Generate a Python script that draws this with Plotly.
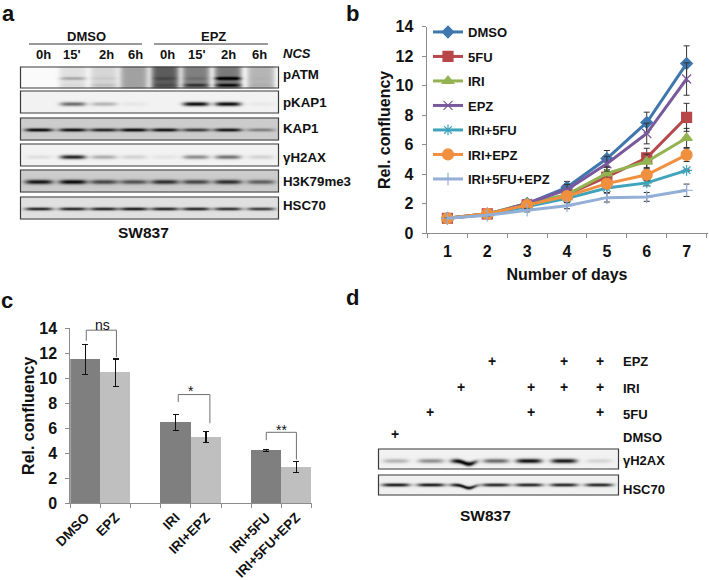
import numpy as np
import plotly.graph_objects as go

W, H = 709, 580

# ---------- panel b data ----------
days = ["1", "2", "3", "4", "5", "6", "7"]
series_names = ["DMSO", "5FU", "IRI", "EPZ", "IRI+5FU", "IRI+EPZ", "IRI+5FU+EPZ"]
dmso = [1, 1.3, 2.0, 3.1, 5.05, 7.5, 11.5]
fu5 = [1, 1.3, 1.9, 2.6, 3.8, 5.1, 7.85]
iri = [1, 1.3, 2.0, 2.6, 4.05, 4.85, 6.45]
epz = [1, 1.25, 2.0, 2.95, 4.7, 6.75, 10.45]
iri_fu = [1, 1.25, 1.8, 2.35, 3.05, 3.4, 4.25]
iri_epz = [1, 1.3, 1.9, 2.5, 3.35, 3.95, 5.3]
iri_fu_epz = [1, 1.2, 1.55, 1.85, 2.4, 2.45, 2.9]
dmso_err = [0, 0.05, 0.15, 0.4, 0.55, 0.7, 1.2]
fu5_err = [0, 0.05, 0.15, 0.3, 0.5, 0.65, 0.95]
iri_err = [0, 0.05, 0.15, 0.3, 0.4, 0.5, 0.65]
epz_err = [0, 0.05, 0.15, 0.35, 0.5, 0.7, 1.1]
iri_fu_err = [0, 0.05, 0.15, 0.25, 0.3, 0.2, 0.08]
iri_epz_err = [0, 0.05, 0.15, 0.25, 0.3, 0.4, 0.45]
iri_fu_epz_err = [0, 0.05, 0.12, 0.2, 0.3, 0.3, 0.42]

# ---------- panel c data ----------
bar_labels = ["DMSO", "EPZ", " ", "IRI", "IRI+EPZ", "  ", "IRI+5FU", "IRI+5FU+EPZ"]
bar_values = [11.5, 10.45, None, 6.45, 5.3, None, 4.25, 2.9]
bar_errors = [1.2, 1.1, None, 0.65, 0.45, None, 0.08, 0.42]

# ---------- panel a data (band darkness 0-1 per lane) ----------
a_lanes = ["0h", "15'", "2h", "6h", "0h", "15'", "2h", "6h"]
a_patm_smear = [0.0, 0.1, 0.14, 0.35, 0.62, 0.48, 0.5, 0.27]
a_patm_upper = [0, 0.25, 0.06, 0, 0.1, 0.08, 0.7, 0.02]
a_patm_lower = [0, 0.03, 0.1, 0, 0.08, 0.35, 0.5, 0.03]
a_pkap1 = [0, 0.55, 0.25, 0.05, 0, 0.95, 0.95, 0.04]
a_kap1 = [0.85, 0.8, 0.72, 0.85, 0.8, 0.62, 0.78, 0.33]
a_gh2ax = [0.08, 0.85, 0.28, 0.13, 0.06, 0.42, 0.52, 0.13]
a_h3k79 = [0.75, 0.8, 0.55, 0.5, 0.65, 0.55, 0.65, 0.45]
a_hsc70 = [0.8, 0.8, 0.8, 0.85, 0.8, 0.8, 0.75, 0.7]

# ---------- panel d data ----------
d_treatments = ["EPZ", "IRI", "5FU", "DMSO"]
d_epz = [0, 0, 0, 1, 0, 1, 1]
d_iri = [0, 0, 1, 0, 1, 1, 1]
d_5fu = [0, 1, 0, 0, 1, 0, 1]
d_dmso = [1, 0, 0, 0, 0, 0, 0]
d_gh2ax = [0.25, 0.4, 1.0, 0.55, 0.92, 0.88, 0.12]
d_hsc70 = [0.9, 0.9, 0.95, 0.85, 0.85, 0.85, 0.85]

# ---------- styles ----------
FONT = "Liberation Sans, Arial, sans-serif"
AXIS = "#8c8c8c"
COLORS = ["#3f76ad", "#b8474a", "#93b352", "#79599c", "#3fa3bb", "#f0903f", "#93afd6"]
SYMBOLS = ["diamond", "square", "triangle-up", "x-thin-open", "asterisk-open", "circle", "cross-thin-open"]
SIZES = [9, 10, 10, 9, 9, 11, 9]


def dom(a, b, total):
    return [a / total, b / total]


def b_text(size=13):
    return dict(family=FONT, size=size, color="#111111")


fig = go.Figure()

# panel b
values = [dmso, fu5, iri, epz, iri_fu, iri_epz, iri_fu_epz]
errors = [dmso_err, fu5_err, iri_err, epz_err, iri_fu_err, iri_epz_err, iri_fu_epz_err]
for i, name in enumerate(series_names):
    fig.add_trace(go.Scatter(
        x=days, y=values[i], name=name, mode="lines+markers", xaxis="x", yaxis="y",
        legendgroup=name,
        line=dict(color=COLORS[i], width=3),
        marker=dict(symbol=SYMBOLS[i], size=SIZES[i], color=COLORS[i],
                    line=dict(color=COLORS[i], width=1.2)),
        error_y=dict(type="data", array=errors[i], color="#333333", thickness=1, width=3),
    ))

# panel c
bar_colors = ["#7f7f7f", "#bfbfbf", "#7f7f7f", "#7f7f7f", "#bfbfbf", "#7f7f7f", "#7f7f7f", "#bfbfbf"]
fig.add_trace(go.Bar(
    x=bar_labels, y=bar_values, xaxis="x2", yaxis="y2", showlegend=False,
    marker=dict(color=bar_colors, line=dict(width=0)),
    error_y=dict(type="data", array=bar_errors, color="#111111", thickness=1.3, width=3),
))


# blots
def blot(x0, x1, y0, y1, lanes, layers, bg, bw, bh, smear=None, bend=None):
    xs = np.arange(x0, x1 + 1.0)
    ys = np.arange(y0, y1 + 1.0)
    X, Y = np.meshgrid(xs, ys)
    Z = np.full(X.shape, float(bg))
    if smear is not None:
        for lane, s in zip(lanes, smear):
            Z += s * np.exp(-(((X - lane) / 14.0) ** 6))
    for yfrac, amps in layers:
        yc = y0 + yfrac * (y1 - y0)
        for k, (lane, amp) in enumerate(zip(lanes, amps)):
            yy = yc
            if bend is not None and bend[k]:
                yy = yc + bend[k] * np.exp(-(((X - lane - 5) / 7.0) ** 2))
            Z += amp * np.exp(-(((X - lane) / bw) ** 4)) * np.exp(-(((Y - yy) / bh) ** 2))
    fig.add_trace(go.Heatmap(
        x=xs, y=ys, z=np.clip(Z, 0, 1), xaxis="x3", yaxis="y3", zmin=0, zmax=1,
        colorscale=[[0, "#ffffff"], [1, "#000000"]], showscale=False,
        zsmooth="best", hoverinfo="skip",
    ))
    return dict(type="rect", xref="x3", yref="y3", x0=x0, x1=x1, y0=y0, y1=y1,
                line=dict(color="#3a3a3a", width=1.2), fillcolor="rgba(0,0,0,0)")


shapes = []
LANES_A = [38, 72, 103, 133, 164, 195, 227, 260]
AX0, AX1 = 20.5, 278.5
shapes.append(blot(AX0, AX1, 67, 88, LANES_A, [(0.5, a_patm_upper), (0.82, a_patm_lower)], 0.02, 13, 1.5, smear=a_patm_smear))
shapes.append(blot(AX0, AX1, 91, 113, LANES_A, [(0.55, a_pkap1)], 0.05, 13, 2.0))
shapes.append(blot(AX0, AX1, 118, 140, LANES_A, [(0.5, a_kap1)], 0.2, 14, 1.6))
shapes.append(blot(AX0, AX1, 144, 166, LANES_A, [(0.55, a_gh2ax)], 0.05, 13, 2.0))
shapes.append(blot(AX0, AX1, 170, 192, LANES_A, [(0.5, a_h3k79)], 0.2, 14, 2.2))
shapes.append(blot(AX0, AX1, 197, 219, LANES_A, [(0.5, a_hsc70)], 0.12, 14, 1.5))
LANES_D = [395, 430, 463, 495, 528, 563, 598]
BEND_D = [0, 0, 3, 0, 0, 0, 0]
shapes.append(blot(378.5, 618.5, 449, 469, LANES_D, [(0.55, d_gh2ax)], 0.05, 13, 2.2, bend=BEND_D))
shapes.append(blot(378.5, 618.5, 475, 495, LANES_D, [(0.45, d_hsc70)], 0.06, 14, 1.6, bend=BEND_D))

# significance brackets in panel c data space
brackets = [(0.03, 1.03, 13.85, 13.0, 11.7), (3.08, 4.13, 8.7, 8.1, 6.4), (6.0, 7.0, 5.68, 5.05, 3.5)]
for xa, xb, top, ya, yb in brackets:
    shapes.append(dict(type="path", xref="x2", yref="y2",
                       path=f"M {xa} {ya} L {xa} {top} L {xb} {top} L {xb} {yb}",
                       line=dict(color="#6f6f6f", width=1)))

# panel a header rules
for xa, xb in [(29, 142), (154, 268)]:
    shapes.append(dict(type="line", xref="x3", yref="y3", x0=xa, x1=xb, y0=44, y1=44,
                       line=dict(color="#333333", width=1)))

ann = []


def txt(x, y, s, size=13, anchor="left", bold=True, italic=False):
    t = s
    if bold:
        t = f"<b>{t}</b>"
    if italic:
        t = f"<i>{t}</i>"
    ann.append(dict(x=x, y=y, xref="x3", yref="y3", text=t, showarrow=False, borderpad=0,
                    xanchor=anchor, yanchor="middle", font=b_text(size)))


txt(1, 13, "a", 22)
txt(345, 13, "b", 22)
txt(0, 300, "c", 22)
txt(345, 297, "d", 22)

txt(86, 36, "DMSO", 13, "center")
txt(213, 36, "EPZ", 13, "center")
LABEL_X_A = [43, 72, 106, 135, 167, 197, 228, 259]
for lx, lab in zip(LABEL_X_A, a_lanes):
    txt(lx, 54, lab, 13, "center")
txt(282, 53, "NCS", 13, "left", italic=True)
for yy, lab in zip([74, 102, 128, 157, 181, 205], ["pATM", "pKAP1", "KAP1", "γH2AX", "H3K79me3", "HSC70"]):
    txt(282, yy, lab, 13.3)
txt(143, 232, "SW837", 15.5, "center")

PLUS_X_D = [395, 430, 461, 492, 531, 564, 600]
ROW_Y_D = [361, 387, 412, 434]
for yy, row in zip(ROW_Y_D, [d_epz, d_iri, d_5fu, d_dmso]):
    for px, on in zip(PLUS_X_D, row):
        if on:
            txt(px, yy, "+", 14, "center")
for yy, lab in zip([361, 388, 414, 437], d_treatments):
    txt(622, yy, lab, 13)
txt(622, 460, "γH2AX", 13)
txt(622, 489, "HSC70", 13)
txt(485, 515, "SW837", 15.5, "center")

txt(102, 325, "ns", 14, "center", bold=False)
txt(191, 391, "*", 14, "center", bold=False)
txt(281, 430, "**", 14, "center", bold=False)

fig.update_layout(
    width=W, height=H, margin=dict(l=0, r=0, t=0, b=0, autoexpand=False),
    paper_bgcolor="white", plot_bgcolor="rgba(0,0,0,0)",
    font=dict(family=FONT, color="#111111"),
    bargap=0, hovermode=False,
    shapes=shapes, annotations=ann,
    legend=dict(x=428 / W, y=1 - 17 / H, xanchor="left", yanchor="top",
                bgcolor="rgba(0,0,0,0)", traceorder="grouped", tracegroupgap=4.6,
                itemwidth=30, font=dict(family=FONT, size=13, color="#111111", weight="bold")),
    xaxis=dict(domain=dom(426.5, 707.5, W), anchor="y", type="category", tickson="boundaries", automargin=False,
               ticks="outside", ticklen=4, tickcolor=AXIS, showline=True, linecolor=AXIS, showgrid=False,
               ticklabelstandoff=4,
               tickfont=dict(family=FONT, size=16, weight="bold"),
               title=dict(text="<b>Number of days</b>", font=dict(family=FONT, size=16), standoff=9)),
    yaxis=dict(domain=[1 - 233 / H, 1 - 26.7 / H], anchor="x", range=[0, 14], dtick=2, automargin=False,
               ticks="outside", ticklen=4, tickcolor=AXIS, showline=True, linecolor=AXIS, showgrid=False,
               zeroline=False, ticklabelstandoff=5,
               tickfont=dict(family=FONT, size=16, weight="bold"),
               title=dict(text="<b>Rel. confluency</b>", font=dict(family=FONT, size=16), standoff=0)),
    xaxis2=dict(domain=dom(70.3, 311.5, W), anchor="y2", type="category", tickson="boundaries", automargin=False,
                categoryorder="array", categoryarray=bar_labels,
                ticks="outside", ticklen=4, tickcolor=AXIS, showline=True, linecolor=AXIS, showgrid=False,
                tickangle=-45, tickfont=dict(family=FONT, size=13.5, weight="bold")),
    yaxis2=dict(domain=[1 - 503.3 / H, 1 - 328.3 / H], anchor="x2", range=[0, 14], dtick=2, automargin=False,
                ticks="outside", ticklen=4, tickcolor=AXIS, showline=True, linecolor=AXIS, showgrid=False,
                zeroline=False, ticklabelstandoff=5,
                tickfont=dict(family=FONT, size=16, weight="bold"),
                title=dict(text="<b>Rel. confluency</b>", font=dict(family=FONT, size=16), standoff=0)),
    xaxis3=dict(domain=[0, 1], anchor="y3", range=[0, W], visible=False, fixedrange=True),
    yaxis3=dict(domain=[0, 1], anchor="x3", range=[H, 0], visible=False, fixedrange=True),
)

fig.write_html("out.html", post_script="document.body.style.margin='0';",
               config=dict(displayModeBar=False))
